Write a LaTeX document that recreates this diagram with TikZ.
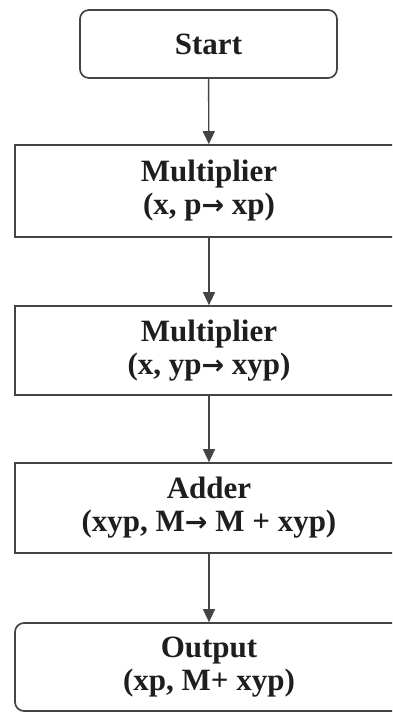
\documentclass[tikz,border=0pt]{standalone}
\usepackage{fontspec}
\setmainfont{Liberation Serif}
\newfontfamily\arrowfont{DejaVu Sans}
\usetikzlibrary{arrows.meta}
\definecolor{edgegray}{HTML}{444444}
\definecolor{inkgray}{HTML}{1E1E1E}
\newcommand{\yields}{{\arrowfont\bfseries\fontsize{27}{32}\selectfont →}}
\begin{document}
\begin{tikzpicture}[x=1pt,y=-1pt,
  stage/.style={draw=edgegray, line width=1.7pt, minimum width=388pt,
    inner sep=0pt, align=center, text=inkgray,
    font=\bfseries\fontsize{31}{33}\selectfont},
  term/.style={stage, rounded corners=9pt},
  flow/.style={draw=edgegray, line width=1.4pt,
    -{Triangle[length=13pt,width=12pt]}}
]
\useasboundingbox (0,0) rectangle (392,713);
\fill[white] (0,0) rectangle (392,713);
\begin{scope}
\clip (0,0) rectangle (392,713);
\node[term, minimum width=257pt, minimum height=68pt] (start) at (208.5,44) {Start};
\node[stage, minimum height=92pt] (mul1) at (209,191) {Multiplier\\(x, p\yields\ xp)};
\node[stage, minimum height=89pt] (mul2) at (209,350.5) {Multiplier\\(x, yp\yields\ xyp)};
\node[stage, minimum height=90pt] (add) at (209,508) {Adder\\(xyp, M\yields\ M + xyp)};
\node[term, minimum height=88pt] (out) at (209,667) {Output\\(xp, M+ xyp)};
\draw[flow] (start) -- (mul1);
\draw[flow] (mul1) -- (mul2);
\draw[flow] (mul2) -- (add);
\draw[flow] (add) -- (out);
\end{scope}
\end{tikzpicture}
\end{document}
